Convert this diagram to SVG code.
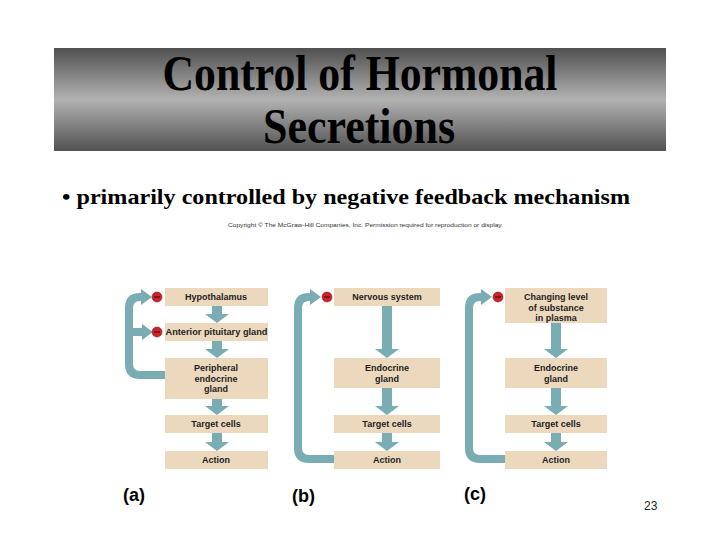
<svg xmlns="http://www.w3.org/2000/svg" width="720" height="540" viewBox="0 0 720 540">
<defs>
<linearGradient id="bar" x1="0" y1="0" x2="0" y2="1">
<stop offset="0" stop-color="#505050"/>
<stop offset="0.5" stop-color="#b2b2b2"/>
<stop offset="1" stop-color="#525252"/>
</linearGradient>
</defs>
<style>
.box{fill:#ecd8bd}
.bt{font-family:"Liberation Sans",Arial,sans-serif;font-weight:bold;font-size:9px;fill:#1e1e1e;text-anchor:middle}
.arr{fill:#7aacb4}
.loop{fill:none;stroke:#7aacb4;stroke-width:8}
.inh{fill:#cc2229;stroke:#8e1a1a;stroke-width:0.6}
.minus{stroke:#5a0c0c;stroke-width:1.2}
.lab{font-family:"Liberation Sans",Arial,sans-serif;font-weight:bold;font-size:18px;fill:#000}
</style>
<rect width="720" height="540" fill="#fff"/>
<rect x="54" y="48" width="612" height="103" fill="url(#bar)"/>
<text x="360" y="90" font-family="'Liberation Serif','Times New Roman',serif" font-weight="bold" font-size="51" text-anchor="middle" textLength="395" lengthAdjust="spacingAndGlyphs">Control of Hormonal</text>
<text x="359" y="143" font-family="'Liberation Serif','Times New Roman',serif" font-weight="bold" font-size="51" text-anchor="middle" textLength="192" lengthAdjust="spacingAndGlyphs">Secretions</text>
<text x="62" y="204" font-family="'Liberation Serif','Times New Roman',serif" font-weight="bold" font-size="21" textLength="568" lengthAdjust="spacingAndGlyphs">• primarily controlled by negative feedback mechanism</text>
<text x="228" y="227" font-family="'Liberation Sans',Arial,sans-serif" font-size="6" fill="#333" textLength="275" lengthAdjust="spacingAndGlyphs">Copyright © The McGraw-Hill Companies, Inc. Permission required for reproduction or display.</text>

<g id="connectors">
<path class="arr" d="M212,306H222V314H229L217,323L205,314H212Z"/>
<path class="arr" d="M212,341H222V349H229L217,358L205,349H212Z"/>
<path class="arr" d="M212,399H222V406H229L217,415L205,406H212Z"/>
<path class="arr" d="M212,433H222V442H229L217,451L205,442H212Z"/>
<path class="arr" d="M382,306H392V349H399L387,358L375,349H382Z"/>
<path class="arr" d="M382,388H392V406H399L387,415L375,406H382Z"/>
<path class="arr" d="M382,433H392V442H399L387,451L375,442H382Z"/>
<path class="arr" d="M551,323H561V349H568L556,358L544,349H551Z"/>
<path class="arr" d="M551,388H561V406H568L556,415L544,406H551Z"/>
<path class="arr" d="M551,433H561V442H568L556,451L544,442H551Z"/>
<path class="loop" d="M166,375H140Q129,375 129,364V308Q129,297 140,297H142"/>
<path class="loop" d="M129,332H143"/>
<path class="arr" d="M141,289L152,297L141,305Z"/>
<path class="arr" d="M142,324L153,332L142,340Z"/>
<path class="loop" d="M335,459H309Q298,459 298,448V308Q298,297 309,297H311"/>
<path class="arr" d="M310,289L321,297L310,305Z"/>
<path class="loop" d="M506,459H480Q469,459 469,448V308Q469,297 480,297H482"/>
<path class="arr" d="M481,289L492,297L481,305Z"/>
<circle class="inh" cx="157" cy="297" r="5"/><line class="minus" x1="154" y1="297" x2="160" y2="297"/>
<circle class="inh" cx="157" cy="332" r="5"/><line class="minus" x1="154" y1="332" x2="160" y2="332"/>
<circle class="inh" cx="327" cy="297" r="5"/><line class="minus" x1="324" y1="297" x2="330" y2="297"/>
<circle class="inh" cx="498" cy="297" r="5"/><line class="minus" x1="495" y1="297" x2="501" y2="297"/>
</g>

<g id="a-hypothalamus"><rect class="box" x="165" y="288" width="103" height="18"/><text class="bt" x="216" y="300">Hypothalamus</text></g>
<g id="a-anterior"><rect class="box" x="165" y="323" width="103" height="18"/><text class="bt" x="216.5" y="335" textLength="102" lengthAdjust="spacingAndGlyphs">Anterior pituitary gland</text></g>
<g id="a-peripheral"><rect class="box" x="165" y="358" width="103" height="41"/><text class="bt" x="216" y="371">Peripheral</text><text class="bt" x="216" y="381.5">endocrine</text><text class="bt" x="216" y="392">gland</text></g>
<g id="a-target"><rect class="box" x="165" y="415" width="103" height="18"/><text class="bt" x="216" y="427">Target cells</text></g>
<g id="a-action"><rect class="box" x="165" y="451" width="103" height="18"/><text class="bt" x="216" y="463">Action</text></g>

<g id="b-nervous"><rect class="box" x="334" y="288" width="106" height="18"/><text class="bt" x="387" y="300">Nervous system</text></g>
<g id="b-endocrine"><rect class="box" x="334" y="358" width="106" height="30"/><text class="bt" x="387" y="371">Endocrine</text><text class="bt" x="387" y="381.5">gland</text></g>
<g id="b-target"><rect class="box" x="334" y="415" width="106" height="18"/><text class="bt" x="387" y="427">Target cells</text></g>
<g id="b-action"><rect class="box" x="334" y="451" width="106" height="18"/><text class="bt" x="387" y="463">Action</text></g>

<g id="c-changing"><rect class="box" x="505" y="288" width="102" height="35"/><text class="bt" x="556" y="300">Changing level</text><text class="bt" x="556" y="310.5">of substance</text><text class="bt" x="556" y="321">in plasma</text></g>
<g id="c-endocrine"><rect class="box" x="505" y="358" width="102" height="30"/><text class="bt" x="556" y="371">Endocrine</text><text class="bt" x="556" y="381.5">gland</text></g>
<g id="c-target"><rect class="box" x="505" y="415" width="102" height="18"/><text class="bt" x="556" y="427">Target cells</text></g>
<g id="c-action"><rect class="box" x="505" y="451" width="102" height="18"/><text class="bt" x="556" y="463">Action</text></g>

<text class="lab" x="123" y="501">(a)</text>
<text class="lab" x="292" y="502">(b)</text>
<text class="lab" x="464" y="500">(c)</text>
<text x="644" y="510" font-family="'Liberation Sans',Arial,sans-serif" font-size="12" fill="#222">23</text>
</svg>
